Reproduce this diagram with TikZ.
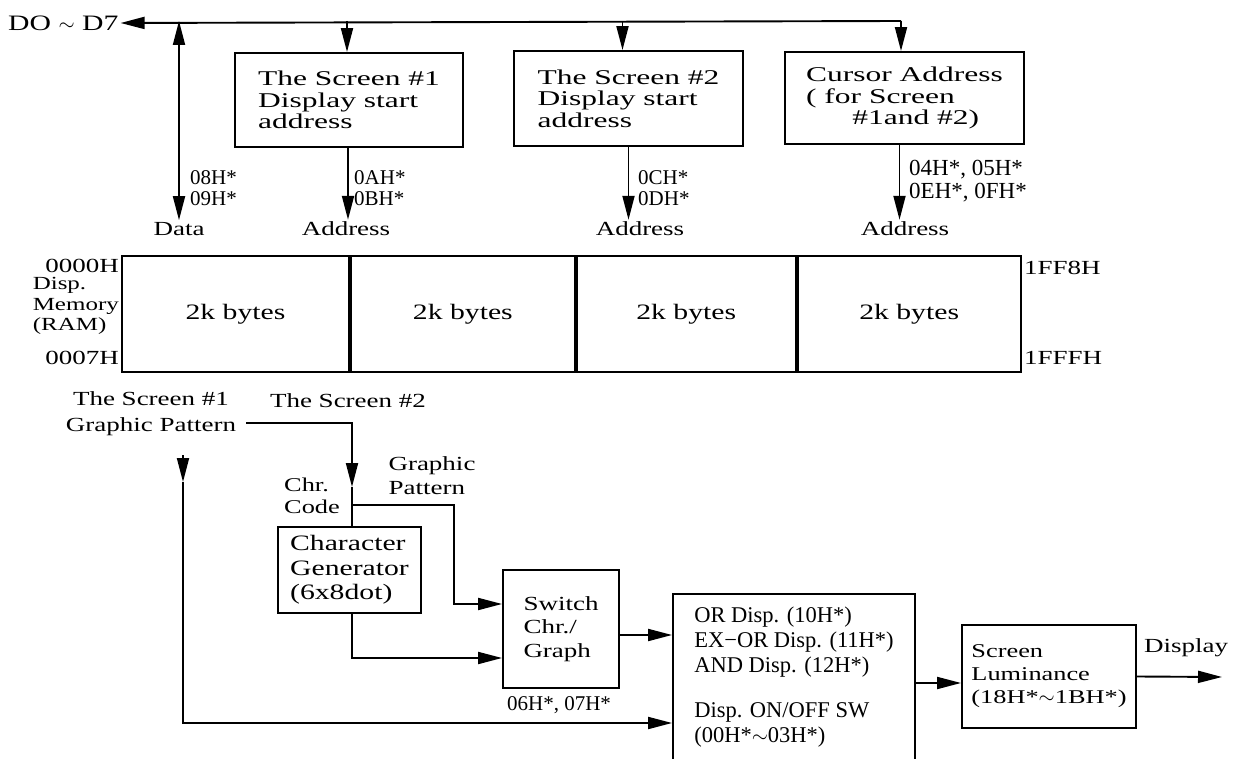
\documentclass[tikz,border=0pt]{standalone}
\usepackage{fontspec}
\setmainfont{Liberation Serif}
\newfontfamily\fwide[FakeStretch=1.35]{Liberation Serif}
\newfontfamily\fwider[FakeStretch=1.5]{Liberation Serif}
\usetikzlibrary{positioning,arrows.meta,calc}
\tikzset{
  blk/.style={draw, line width=1.9pt, align=left, inner sep=0pt},
  sig/.style={-{Triangle[length=24pt,width=12pt]}, line width=1.9pt},
  dsig/.style={{Triangle[length=24pt,width=12pt]}-{Triangle[length=24pt,width=12pt]}, line width=1.9pt},
  lbl/.style={font=\fwide\fontsize{20}{24}\selectfont, inner sep=2pt},
  hexl/.style={font=\fontsize{21}{21}\selectfont, align=left, inner sep=2pt, anchor=west},
  cell/.style={draw, line width=1.9pt, minimum height=116pt, inner sep=0pt, font=\fwide\fontsize{22}{26}\selectfont},
  boxf/.style={font=\fwider\fontsize{21}{21.5}\selectfont},
}
\begin{document}
\begin{tikzpicture}[x=1pt,y=-1pt]
    \useasboundingbox (0,0) rectangle (1248,759);
    % data bus and registers
    \node[lbl, font=\fwide\fontsize{22}{24}\selectfont, anchor=west] (d07) at (6,23) {DO $\sim$ D7};
    \coordinate (bus) at (901,21);
    \node[blk, boxf, minimum width=228pt, minimum height=94pt] (scr1) at (349,100) {The Screen \#1\\Display start\\address};
    \node[blk, boxf, minimum width=229pt, minimum height=95pt] (scr2) at (628.5,98.5) {The Screen \#2\\Display start\\address};
    \node[blk, boxf, minimum width=239pt, minimum height=92pt] (scr3) at (904.5,98) {Cursor Address\\( for Screen\\\hspace*{2.2em}\#1and \#2)};
    \node[lbl] (dat) at (179,229) {Data};
    \node[lbl] (adr1) at (346,229) {Address};
    \node[lbl] (adr2) at (640,229) {Address};
    \node[lbl] (adr3) at (905,229) {Address};
    \draw[sig] (bus) -- (d07.east);
    \draw[sig] (bus) -- (bus |- scr3.north);
    \draw[sig] ([xshift=-2pt]scr1.north |- bus) -- ([xshift=-2pt]scr1.north);
    \draw[sig] ([xshift=-6pt]scr2.north |- bus) -- ([xshift=-6pt]scr2.north);
    \draw[dsig] (dat.north |- bus) -- (dat.north);
    \draw[sig] ([xshift=-1pt]scr1.south) -- ([xshift=-1pt]scr1.south |- adr1.north);
    \draw[sig] (scr2.south) -- (scr2.south |- adr2.north);
    \draw[sig] ([xshift=-5pt]scr3.south) -- ([xshift=-5pt]scr3.south |- adr3.north);
    \node[hexl] (h1) at (188,188) {08H*\\09H*};
    \node[hexl] (h2) at (352,188) {0AH*\\0BH*};
    \node[hexl] (h3) at (636,188) {0CH*\\0DH*};
    \node[hexl, font=\fontsize{23}{22.5}\selectfont] (h4) at (907,181) {04H*, 05H*\\0EH*, 0FH*};
    % display memory
    \node[cell, minimum width=227pt] (m1) at (235.5,314) {2k bytes};
    \node[cell, minimum width=224pt, right=0pt of m1] (m2) {2k bytes};
    \node[cell, minimum width=219pt, right=0pt of m2] (m3) {2k bytes};
    \node[cell, minimum width=223pt, right=0pt of m3] (m4) {2k bytes};
    \node[lbl, anchor=east] (a0) at (121,266) {0000H};
    \node[lbl, anchor=east, align=left, font=\fwide\fontsize{18.5}{20.5}\selectfont] (ram) at (121,306) {Disp.\\Memory\\(RAM)};
    \node[lbl, anchor=east] (a7) at (121,358) {0007H};
    \node[lbl, anchor=west] (b0) at (1022,268) {1FF8H};
    \node[lbl, anchor=west] (b7) at (1022,358) {1FFFH};
    % character / graphic path
    \node[lbl, align=center, font=\fwide\fontsize{20}{26}\selectfont] (s1) at (151,414) {The Screen \#1\\Graphic Pattern};
    \node[lbl] (s2) at (348,401) {The Screen \#2};
    \node[lbl, align=left, font=\fwide\fontsize{19.5}{22.5}\selectfont] (ccl) at (312,496) {Chr.\\Code};
    \node[lbl, align=left] (gpl) at (432,476) {Graphic\\Pattern};
    \node[blk, font=\fwide\fontsize{22}{24.5}\selectfont, minimum width=143pt, minimum height=86pt] (chg) at (349.5,570) {Character\\Generator\\(6x8dot)};
    \node[blk, font=\fwide\fontsize{20}{23.5}\selectfont, minimum width=116pt, minimum height=118pt] (sw) at (561,629) {Switch\\Chr./\\Graph};
    \node[hexl, anchor=north] (swc) at (559,694) {06H*, 07H*};
    \node[blk, font=\fontsize{22.5}{25}\selectfont, minimum width=242pt, minimum height=166pt] (orb) at (794,677) {OR Disp. (10H*)\\EX−OR Disp. (11H*)\\AND Disp. (12H*)\\[20pt]Disp. ON/OFF SW\\(00H*$\sim$03H*)};
    \node[blk, font=\fwide\fontsize{19.5}{23}\selectfont, minimum width=174pt, minimum height=103pt] (lum) at (1049,676.5) {Screen\\Luminance\\(18H*$\sim$1BH*)};
    \node[lbl] (dsp) at (1186,648) {Display};
    \coordinate (cc) at (352,505);
    \coordinate (cca) at (352,487);
    \coordinate (gp) at (454,604);
    \coordinate (g1) at (183,455);
    \coordinate (g1m) at (183,482);
    \coordinate (out) at (1222,677);
    \draw[sig] ([shift={(8pt,-9pt)}]s1.east) -| (cca);
    \draw[line width=1.9pt] (cca) -- (cc) -- (cc |- chg.north);
    \draw[sig] (cc) -| (gp) -- (gp -| sw.west);
    \draw[sig] (cc |- chg.south) |- ([yshift=-29pt]sw.west);
    \draw[sig] (g1) -- (g1m);
    \draw[sig] (g1m) |- ([yshift=-46pt]orb.west);
    \draw[sig] ([yshift=-6pt]sw.east) -- ([yshift=-6pt]sw.east -| orb.west);
    \draw[sig] ([yshift=-6pt]orb.east) -- ([yshift=-6pt]orb.east -| lum.west);
    \draw[sig] (lum.east) -- (out);
\end{tikzpicture}
\end{document}
